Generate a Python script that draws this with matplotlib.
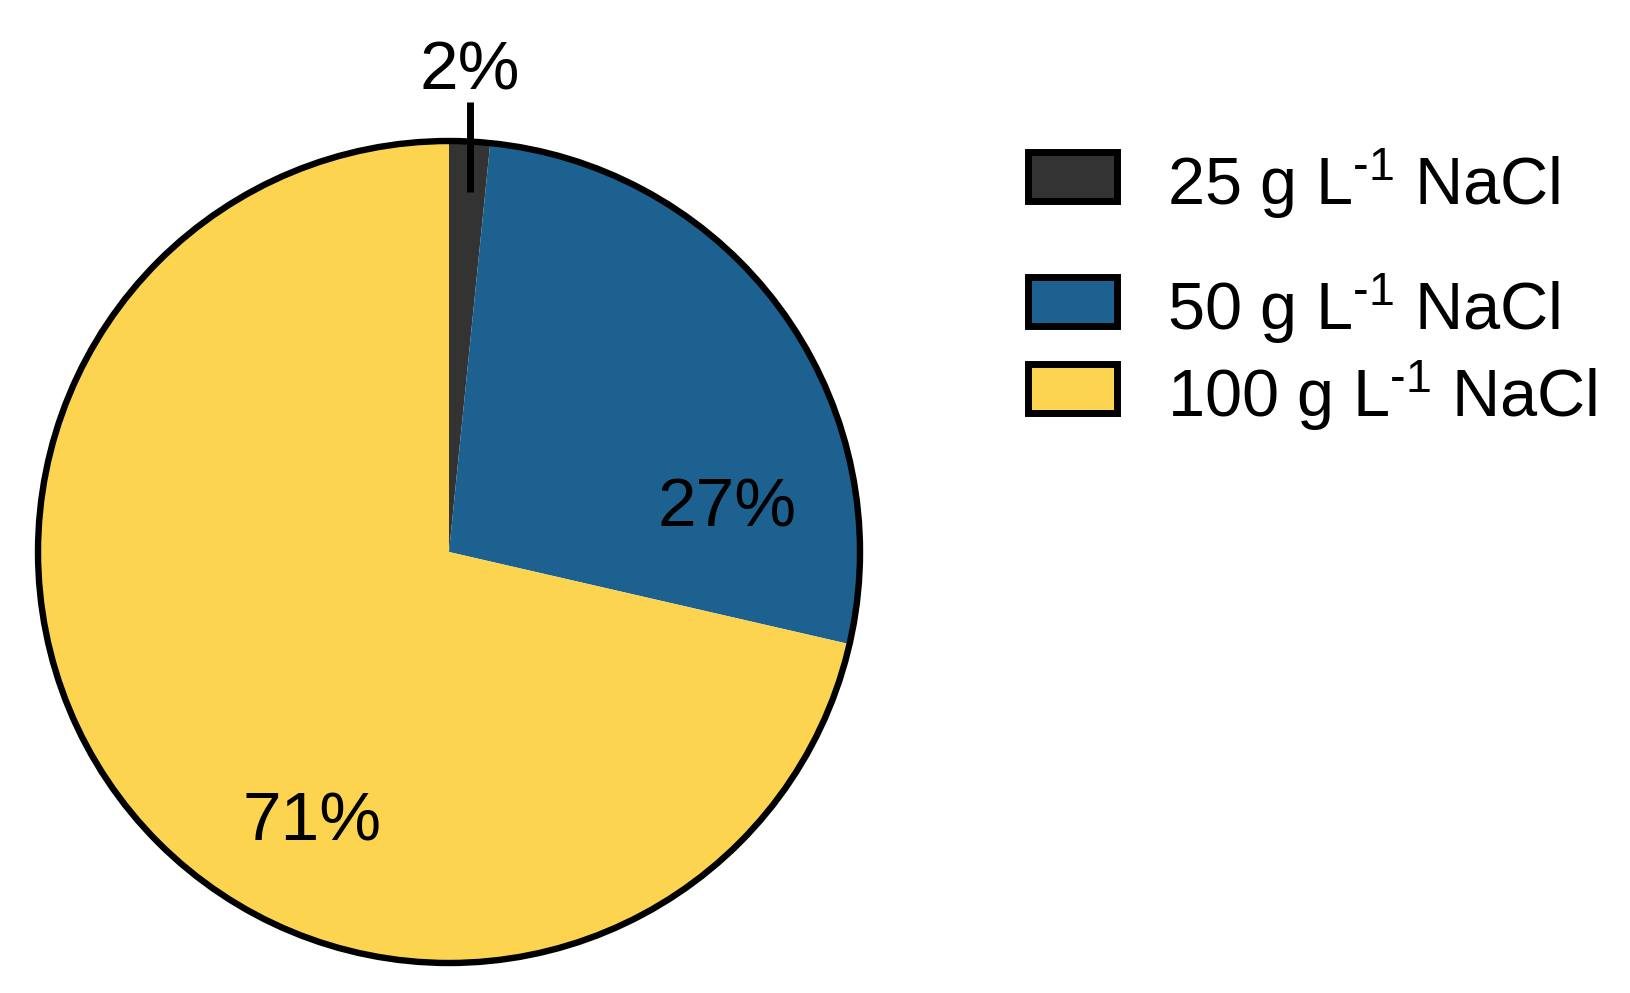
import matplotlib
matplotlib.use("Agg")
import matplotlib.pyplot as plt
from matplotlib.patches import Rectangle, Circle

plt.rcParams['font.family'] = ['Liberation Sans', 'DejaVu Sans']
plt.rcParams['mathtext.fontset'] = 'custom'
plt.rcParams['mathtext.rm'] = 'Liberation Sans'
plt.rcParams['mathtext.default'] = 'regular'

categories = ["25 g L$^{\\text{-1}}$ NaCl", "50 g L$^{\\text{-1}}$ NaCl", "100 g L$^{\\text{-1}}$ NaCl"]
values = [1.6, 27.0, 71.4]
shown_pct = [2, 27, 71]
colors = ["#333333", "#1d6191", "#fcd450"]

W, H = 1631, 993
fig = plt.figure(figsize=(W / 100, H / 100), dpi=100)
cx, cy, r = 449, 552, 411
ax = fig.add_axes([(cx - r) / W, (H - cy - r) / H, 2 * r / W, 2 * r / H])
ax.pie(values, colors=colors, startangle=90, counterclock=False, radius=1,
       wedgeprops=dict(linewidth=0))
ax.add_patch(Circle((0, 0), 1, fill=False, edgecolor="black", linewidth=4.6, clip_on=False))
ax.set_xlim(-1, 1)
ax.set_ylim(-1, 1)
ax.set_aspect("equal")
ax.axis("off")

fs = 50
# 2% label with leader line
ax.plot([0.051, 0.051], [0.875, 1.096], color="black", linewidth=5, clip_on=False, solid_capstyle="butt")
ax.text(0.051, 1.17, f"{shown_pct[0]}%", ha="center", va="center", fontsize=fs, clip_on=False)
ax.text(0.676, 0.107, f"{shown_pct[1]}%", ha="center", va="center", fontsize=fs)
ax.text(-0.332, -0.657, f"{shown_pct[2]}%", ha="center", va="center", fontsize=fs)

# legend drawn manually
box_tops = [152, 277, 364]
baselines = [205, 330, 417]
bw, bh = 89, 49
for cat, col, top, base in zip(categories, colors, box_tops, baselines):
    fig.patches.append(Rectangle((1028 / W, (H - top - bh) / H), bw / W, bh / H,
                                 transform=fig.transFigure, facecolor=col,
                                 edgecolor="black", linewidth=5))
    fig.text(1167 / W, (H - base) / H, cat, fontsize=48, ha="left", va="baseline")

fig.savefig("out.png", dpi=100, facecolor="white")
